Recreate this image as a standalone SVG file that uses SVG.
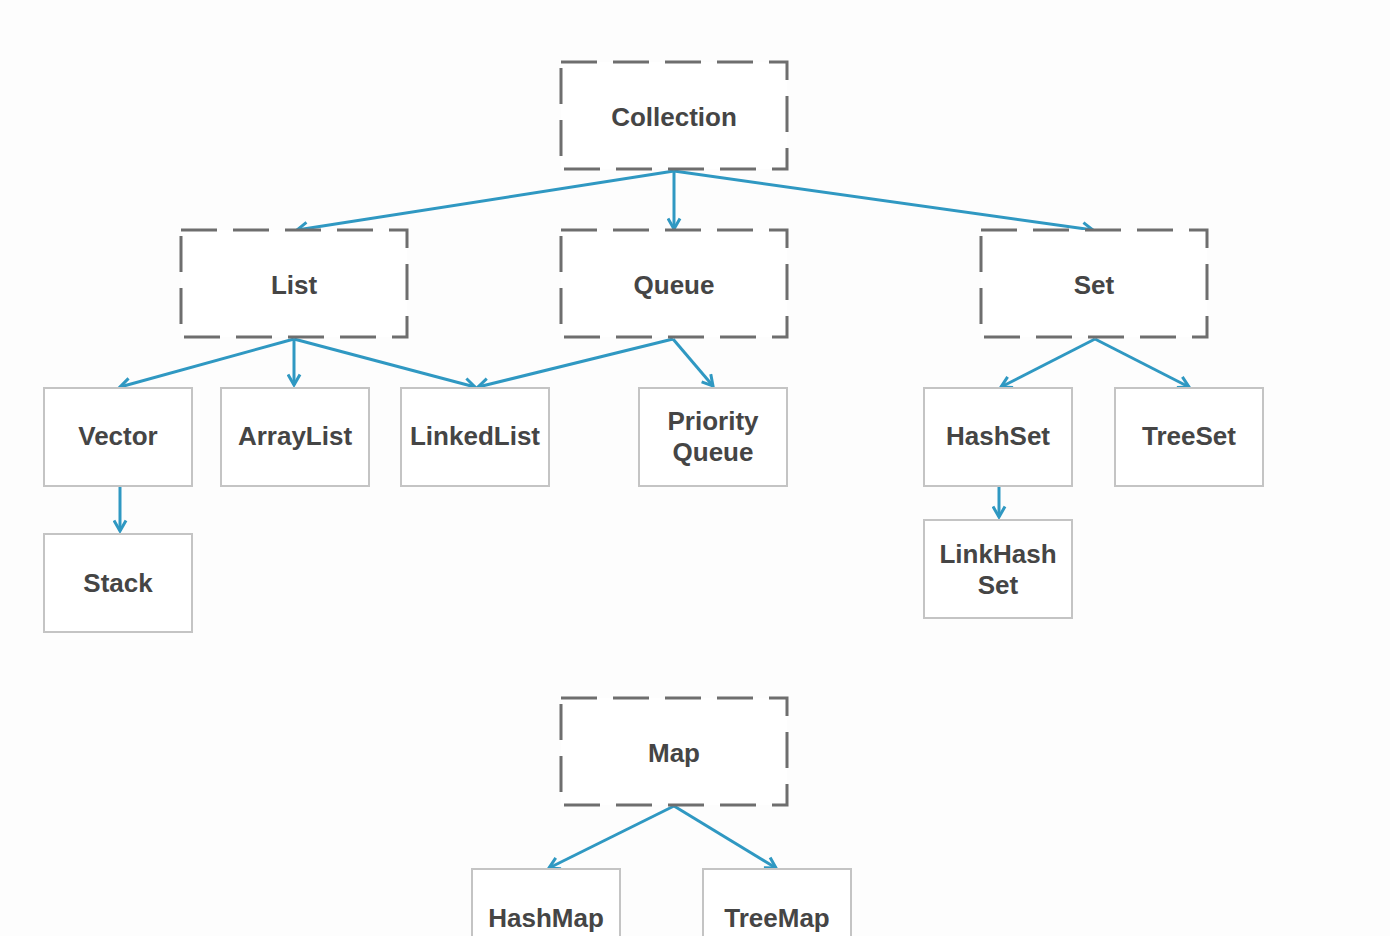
<svg xmlns="http://www.w3.org/2000/svg" width="1390" height="936" viewBox="0 0 1390 936">
<style>
.dash{fill:#fff;stroke:#6e6e6e;stroke-width:3;stroke-dasharray:36 16}
.box{fill:#fff;stroke:#c4c4c4;stroke-width:2}
.t{font-family:"Liberation Sans",Arial,sans-serif;font-weight:bold;font-size:26px;fill:#454545;text-anchor:middle}
.c{stroke:#2f98c2;stroke-width:3;fill:none;marker-end:url(#ah)}
</style>
<defs>
<marker id="ah" viewBox="0 0 10 10" refX="8" refY="5" markerWidth="5" markerHeight="5" orient="auto" markerUnits="strokeWidth">
<path d="M1,1 L8,5 L1,9" fill="none" stroke="#2f98c2" stroke-width="2"/>
</marker>
</defs>
<rect width="1390" height="936" fill="#fdfdfd"/>
<g id="connectors">
<line class="c" x1="674" y1="171" x2="297" y2="230"/>
<line class="c" x1="674" y1="171" x2="674" y2="229"/>
<line class="c" x1="674" y1="171" x2="1093" y2="230"/>
<line class="c" x1="294" y1="339" x2="120" y2="387"/>
<line class="c" x1="294" y1="339" x2="294" y2="385"/>
<line class="c" x1="294" y1="339" x2="475" y2="387"/>
<line class="c" x1="673" y1="339" x2="478" y2="387"/>
<line class="c" x1="673" y1="339" x2="713" y2="386"/>
<line class="c" x1="1095" y1="339" x2="1001" y2="387"/>
<line class="c" x1="1095" y1="339" x2="1189" y2="387"/>
<line class="c" x1="120" y1="487" x2="120" y2="531"/>
<line class="c" x1="999" y1="487" x2="999" y2="517"/>
<line class="c" x1="674" y1="806" x2="549" y2="868"/>
<line class="c" x1="674" y1="806" x2="776" y2="868"/>
</g>
<g id="collection"><rect class="dash" x="561" y="62" width="226" height="107"/><text class="t" x="674" y="126">Collection</text></g>
<g id="list"><rect class="dash" x="181" y="230" width="226" height="107"/><text class="t" x="294" y="294">List</text></g>
<g id="queue"><rect class="dash" x="561" y="230" width="226" height="107"/><text class="t" x="674" y="294">Queue</text></g>
<g id="set"><rect class="dash" x="981" y="230" width="226" height="107"/><text class="t" x="1094" y="294">Set</text></g>
<g id="map"><rect class="dash" x="561" y="698" width="226" height="107"/><text class="t" x="674" y="762">Map</text></g>
<g id="vector"><rect class="box" x="44" y="388" width="148" height="98"/><text class="t" x="118" y="445">Vector</text></g>
<g id="arraylist"><rect class="box" x="221" y="388" width="148" height="98"/><text class="t" x="295" y="445">ArrayList</text></g>
<g id="linkedlist"><rect class="box" x="401" y="388" width="148" height="98"/><text class="t" x="475" y="445">LinkedList</text></g>
<g id="priorityqueue"><rect class="box" x="639" y="388" width="148" height="98"/><text class="t" x="713" y="430">Priority</text><text class="t" x="713" y="461">Queue</text></g>
<g id="hashset"><rect class="box" x="924" y="388" width="148" height="98"/><text class="t" x="998" y="445">HashSet</text></g>
<g id="treeset"><rect class="box" x="1115" y="388" width="148" height="98"/><text class="t" x="1189" y="445">TreeSet</text></g>
<g id="stack"><rect class="box" x="44" y="534" width="148" height="98"/><text class="t" x="118" y="592">Stack</text></g>
<g id="linkhashset"><rect class="box" x="924" y="520" width="148" height="98"/><text class="t" x="998" y="563">LinkHash</text><text class="t" x="998" y="594">Set</text></g>
<g id="hashmap"><rect class="box" x="472" y="869" width="148" height="98"/><text class="t" x="546" y="927">HashMap</text></g>
<g id="treemap"><rect class="box" x="703" y="869" width="148" height="98"/><text class="t" x="777" y="927">TreeMap</text></g>
</svg>
